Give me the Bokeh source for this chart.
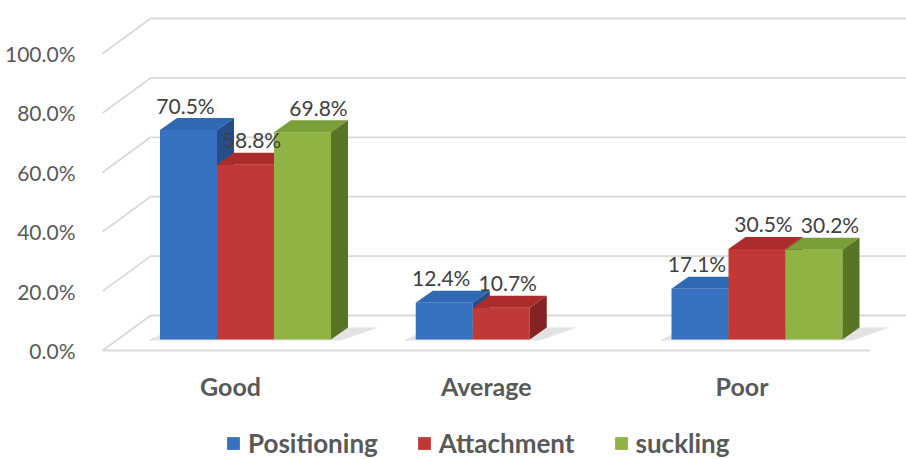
from bokeh.plotting import figure
from bokeh.models import Range1d, PrintfTickFormatter, FixedTicker, Legend, LegendItem
from bokeh.embed import file_html
from bokeh.resources import INLINE
from bokeh.core.properties import value

# ---------------- data ----------------
categories = ["Good", "Average", "Poor"]
positioning = [70.5, 12.4, 17.1]
attachment = [58.8, 10.7, 30.5]
suckling = [69.8, None, 30.2]
series_names = ["Positioning", "Attachment", "suckling"]
y_ticks = [0, 20, 40, 60, 80, 100]

# ---------------- styling / geometry ----------------
FONT = "Lato"
PX_X = 255.75   # screen px per category unit
PX_Y = 2.97     # screen px per percent


def ux(px):
    return px / PX_X


def uy(px):
    return px / PX_Y


BAR_W = ux(57)
FRONT_DX, FRONT_DY = ux(15), uy(11)   # bar front plane behind floor edge
BAR_DX, BAR_DY = ux(17), uy(12)       # bar depth
WALL_DX, WALL_DY = ux(48), uy(35)     # floor depth (back wall)
X_LEFT, X_RIGHT = -0.5, 2.5
LABEL_NUDGE_PX = [-3, 6.5, 16]        # horizontal label nudge per series (3D projection)

colors = {
    "Positioning": dict(front="#3672BF", top="#2F68B3", side="#254E89"),
    "Attachment": dict(front="#C23836", top="#AA2D2B", side="#842321"),
    "suckling": dict(front="#8FB444", top="#7A9E38", side="#587526"),
}
GRID = "#D9D9D9"
TEXT = "#595959"

p = figure(width=906, height=459,
           x_range=Range1d(-0.5161, 2.6432), y_range=Range1d(-36.7, 114.48),
           output_backend="svg", toolbar_location=None, x_axis_location=None,
           min_border_left=98, min_border_right=0, min_border_top=10, min_border_bottom=0)
p.grid.visible = False
p.outline_line_color = None
p.background_fill_color = "white"

ya = p.yaxis[0]
ya.ticker = FixedTicker(ticks=y_ticks)
ya.formatter = PrintfTickFormatter(format="%.1f%%")
ya.axis_line_color = None
ya.major_tick_line_color = None
ya.minor_tick_line_color = None
ya.major_label_standoff = 17
ya.major_label_text_font = FONT
ya.major_label_text_font_size = "21px"
ya.major_label_text_color = TEXT

# ---------------- walls / gridlines ----------------
p.segment(x0=[X_LEFT] * len(y_ticks), y0=y_ticks,
          x1=[X_LEFT + WALL_DX] * len(y_ticks), y1=[t + WALL_DY for t in y_ticks],
          line_color=GRID, line_width=1.8)
p.segment(x0=[X_LEFT + WALL_DX] * len(y_ticks), y0=[t + WALL_DY for t in y_ticks],
          x1=[3.0] * len(y_ticks), y1=[t + WALL_DY for t in y_ticks],
          line_color=GRID, line_width=1.8)
p.segment(x0=[X_LEFT], y0=[0], x1=[X_RIGHT], y1=[0], line_color=GRID, line_width=1.8)

all_series = [positioning, attachment, suckling]
n = len(all_series)

# ---------------- shadows ----------------
sh_xs, sh_ys = [], []
for ci in range(len(categories)):
    present = [si for si in range(n) if all_series[si][ci] is not None]
    cx = ci + FRONT_DX
    gx0 = cx + (present[0] - n / 2) * BAR_W
    gx1 = cx + (present[-1] + 1 - n / 2) * BAR_W
    b = FRONT_DY
    sh_xs.append([gx0 - ux(12), gx1 + ux(10), gx1 + BAR_DX + ux(30), gx0 + BAR_DX - ux(2)])
    sh_ys.append([b - uy(1), b - uy(1), b + BAR_DY, b + BAR_DY])
p.patches(xs=sh_xs, ys=sh_ys, fill_color="#7F7F7F", fill_alpha=0.22, line_color=None)

# ---------------- bars ----------------
front_renderers = []
lab_x, lab_y, lab_t = [], [], []
for si, (name, vals) in enumerate(zip(series_names, all_series)):
    c = colors[name]
    left, right, bottom, top = [], [], [], []
    txs, tys, sxs, sys_ = [], [], [], []
    for ci, v in enumerate(vals):
        if v is None:
            continue
        x0 = ci + FRONT_DX + (si - n / 2) * BAR_W
        x1 = x0 + BAR_W
        b = FRONT_DY
        t = b + v
        left.append(x0); right.append(x1); bottom.append(b); top.append(t)
        txs.append([x0, x1, x1 + BAR_DX, x0 + BAR_DX])
        tys.append([t, t, t + BAR_DY, t + BAR_DY])
        sxs.append([x1, x1 + BAR_DX, x1 + BAR_DX, x1])
        sys_.append([b, b + BAR_DY, t + BAR_DY, t])
        lab_x.append((x0 + x1) / 2 + ux(LABEL_NUDGE_PX[si]))
        lab_y.append(t + uy(25))
        lab_t.append(f"{v:.1f}%")
    r = p.quad(left=left, right=right, bottom=bottom, top=top,
               fill_color=c["front"], line_color=None)
    p.patches(xs=txs, ys=tys, fill_color=c["top"], line_color=None)
    p.patches(xs=sxs, ys=sys_, fill_color=c["side"], line_color=None)
    front_renderers.append(r)

# data labels
p.text(x=lab_x, y=lab_y, text=lab_t, text_font=value(FONT), text_font_size="21px",
       text_align="center", text_baseline="middle", text_color="#404040")

# category labels
p.text(x=list(range(len(categories))), y=[uy(-35)] * len(categories), text=categories,
       text_font=value(FONT), text_font_style="bold", text_font_size="25px",
       text_align="center", text_baseline="middle", text_color=TEXT)

legend = Legend(items=[LegendItem(label=nm, renderers=[r]) for nm, r in zip(series_names, front_renderers)],
                orientation="horizontal", location=(127, 0),
                background_fill_alpha=0, border_line_color=None,
                label_text_font=FONT, label_text_font_style="bold", label_text_font_size="26px",
                label_text_color=TEXT, glyph_width=16, glyph_height=16,
                spacing=38, padding=0, margin=0, label_standoff=7)
p.add_layout(legend)

open("out.html", "w").write(file_html(p, INLINE))
